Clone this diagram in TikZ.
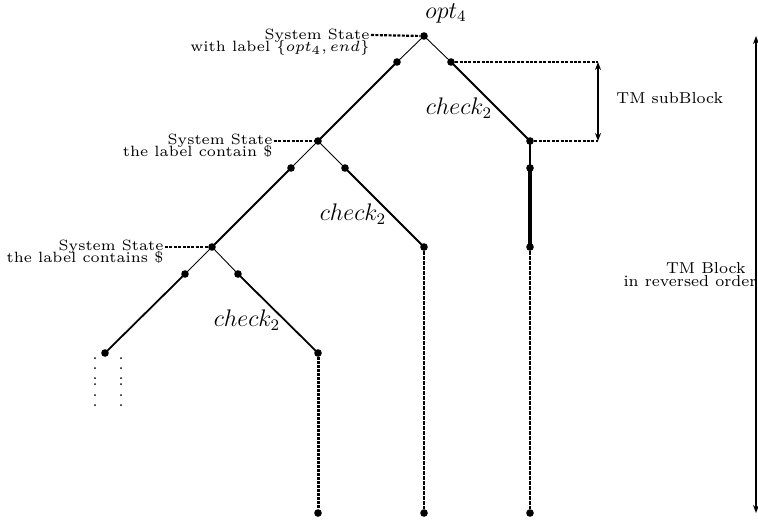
\documentclass[tikz,border=0pt]{standalone}
\usetikzlibrary{arrows.meta}
\newcommand{\smallfnt}{\fontsize{6}{4.8}\selectfont\setlength{\lineskiplimit}{-10pt}}
\newcommand{\tmfnt}{\fontsize{7}{5.8}\selectfont\setlength{\lineskiplimit}{-10pt}}
\begin{document}
\begin{tikzpicture}[x=0.5pt,y=-0.5pt,
  dot/.style={circle,fill=black,inner sep=0pt,minimum size=3.8pt},
  sdot/.style={circle,fill=black,inner sep=0pt,minimum size=1pt},
  thinedge/.style={line width=0.45pt},
  thickedge/.style={line width=0.9pt},
  heavyedge/.style={line width=2.4pt},
  tail/.style={line width=1pt,dash pattern=on 1.7pt off 0.8pt},
  tailheavy/.style={line width=1.5pt,dash pattern=on 1.3pt off 0.7pt},
  leader/.style={line width=1.1pt,dash pattern=on 1.5pt off 0.7pt},
  mathlbl/.style={font=\large},
  smalltxt/.style={font=\smallfnt,align=right,inner sep=0pt,scale=1.24,transform shape},
  tmtxt/.style={font=\tmfnt,inner sep=0pt,scale=1.13,transform shape},
  dblarrow/.style={line width=0.9pt,{Stealth[length=4pt,width=3pt]}-{Stealth[length=4pt,width=3pt]}}
]
\useasboundingbox (0,0) rectangle (758,520);

% tree nodes
\node[dot] (A) at (424,36) {};
\node[dot] (a1) at (397,62) {};
\node[dot] (a2) at (451,62) {};
\node[dot] (B) at (318,141) {};
\node[dot] (C) at (530,141) {};
\node[dot] (b1) at (291,168) {};
\node[dot] (b2) at (345,168) {};
\node[dot] (c1) at (530,168) {};
\node[dot] (D) at (212,247) {};
\node[dot] (Bend) at (424,247) {};
\node[dot] (c2) at (530,247) {};
\node[dot] (d1) at (185,274) {};
\node[dot] (d2) at (238,274) {};
\node[dot] (E) at (105,353) {};
\node[dot] (Dend) at (318,353) {};
\node[dot] (L1) at (318,513) {};
\node[dot] (L2) at (424,513) {};
\node[dot] (L3) at (530,513) {};

% edges
\draw[thinedge] (A.center) -- (a1.center);
\draw[thickedge] (a1.center) -- (B.center);
\draw[thinedge] (A.center) -- (a2.center);
\draw[thickedge] (a2.center) -- (C.center);
\draw[thinedge] (B.center) -- (b1.center);
\draw[thickedge] (b1.center) -- (D.center);
\draw[thinedge] (B.center) -- (b2.center);
\draw[thickedge] (b2.center) -- (Bend.center);
\draw[thinedge] (D.center) -- (d1.center);
\draw[thickedge] (d1.center) -- (E.center);
\draw[thinedge] (D.center) -- (d2.center);
\draw[thickedge] (d2.center) -- (Dend.center);
\draw[thickedge] (C.center) -- (c1.center);
\draw[heavyedge] (c1.center) -- (c2.center);
\draw[tail] (c2) -- (L3);
\draw[tail] (Bend) -- (L2);
\draw[tailheavy] (Dend) -- (L1);

% labels
\node[mathlbl] (optl) at (446,13) {$opt_4$};
\node[mathlbl] (ck1) at (459,108) {$check_2$};
\node[mathlbl] (ck2) at (353,214) {$check_2$};
\node[mathlbl] (ck3) at (247,320) {$check_2$};

% system state labels
\node[smalltxt,anchor=north east] (sA) at (370,29) {System State\\with label $\{opt_4, end\}$};
\coordinate (sAe) at (371,35);
\draw[leader] (sAe) -- (A);
\node[smalltxt,anchor=north east] (sB) at (273,134) {System State\\the label contain \$};
\coordinate (sBe) at (274,141);
\draw[leader] (sBe) -- (B);
\node[smalltxt,anchor=north east] (sD) at (164,240) {System State\\the label contains \$};
\coordinate (sDe) at (165,247);
\draw[leader] (sDe) -- (D);

% ellipsis dots
\foreach \yy in {358,368,378,384,395,405}{
  \node[sdot] at (95,\yy) {};
  \node[sdot] at (121,\yy) {};
}

% sub block
\coordinate (sbT) at (598,62);
\coordinate (sbB) at (598,141);
\draw[leader] (a2) -- (sbT);
\draw[leader] (C) -- (sbB);
\draw[dblarrow] (sbT) -- (sbB);
\node[tmtxt,anchor=west] (sbl) at (616,98) {TM subBlock};

% whole block
\coordinate (bT) at (756,36);
\coordinate (bB) at (756,513);
\node[tmtxt,align=center] (bl) at (690,275) {\hspace*{14pt}TM Block\\in reversed order};
\draw[dblarrow] (bT) -- (bB);
\end{tikzpicture}
\end{document}
